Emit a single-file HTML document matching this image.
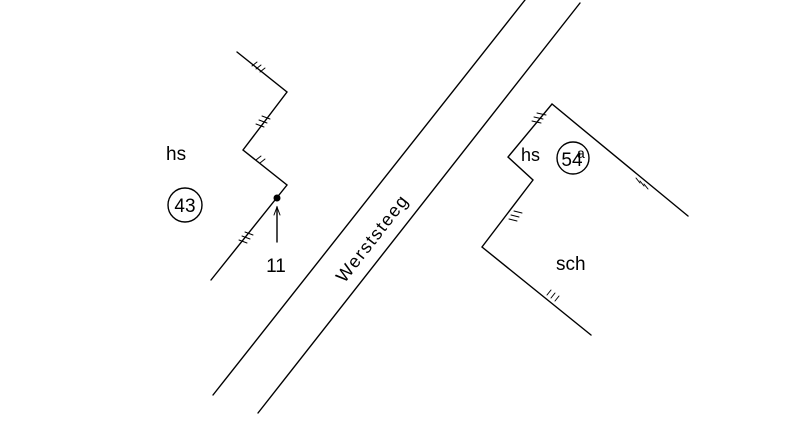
<!DOCTYPE html>
<html><head><meta charset="utf-8"><style>
html,body{margin:0;padding:0;background:#fff;}
svg{display:block;}
text{font-family:"Liberation Sans",sans-serif;fill:#000;}
</style></head><body>
<svg width="800" height="424" viewBox="0 0 800 424" xmlns="http://www.w3.org/2000/svg">
<g stroke="#000" stroke-width="1.4" fill="none" stroke-linecap="round">
<!-- road -->
<line x1="525" y1="0" x2="213" y2="395"/>
<line x1="580" y1="3" x2="258" y2="413"/>
<!-- left building -->
<polyline points="237,52 287,92 243,150 287,185 211,280"/>
<!-- hatches left -->
<path d="M252,66 l5,-4 M256,69 l5,-4 M260,72 l5,-4" stroke-width="1"/>
<path d="M256,124 l8,3 M259,120 l8,3 M262,116 l8,3" stroke-width="1"/>
<path d="M256,160 l5,-4 M260,163 l5,-4" stroke-width="1"/>
<path d="M239,240 l8,3 M242,236 l8,3 M245,232 l8,3" stroke-width="1"/>
<!-- arrow -->
<line x1="277" y1="242" x2="277" y2="207"/>
<path d="M274,215 L277,207 L280,215" stroke-width="1"/>
<!-- right building -->
<polyline points="688,216 552,104 508,157 533,180 482,247 591,335"/>
<path d="M532,121 l9,2 M534,117 l9,2 M537,113 l9,2" stroke-width="1"/>
<path d="M636,178 l4,5 M640,181 l4,5 M644,184 l4,5" stroke-width="1"/>
<path d="M509,219 l8,2 M511,215 l8,2 M514,211 l8,2" stroke-width="1"/>
<path d="M547,295 l4,-5 M551,298 l4,-5 M555,301 l4,-5" stroke-width="1"/>
<!-- circles -->
<circle cx="185" cy="205" r="17"/>
<circle cx="573" cy="158" r="16"/>
</g>
<circle cx="277" cy="198" r="3.5" fill="#000"/>
<text x="166" y="160" font-size="19">hs</text>
<text x="185" y="212" font-size="19" text-anchor="middle">43</text>
<text x="276" y="272" font-size="19" text-anchor="middle">11</text>
<text x="521" y="161" font-size="18">hs</text>
<text x="572" y="166" font-size="19" text-anchor="middle">54</text>
<text x="577" y="158" font-size="14">a</text>
<text x="556" y="270" font-size="19">sch</text>
<text x="0" y="0" font-size="18" letter-spacing="1.5" text-anchor="middle" transform="translate(377,242) rotate(-52)">Werststeeg</text>
</svg>
</body></html>
